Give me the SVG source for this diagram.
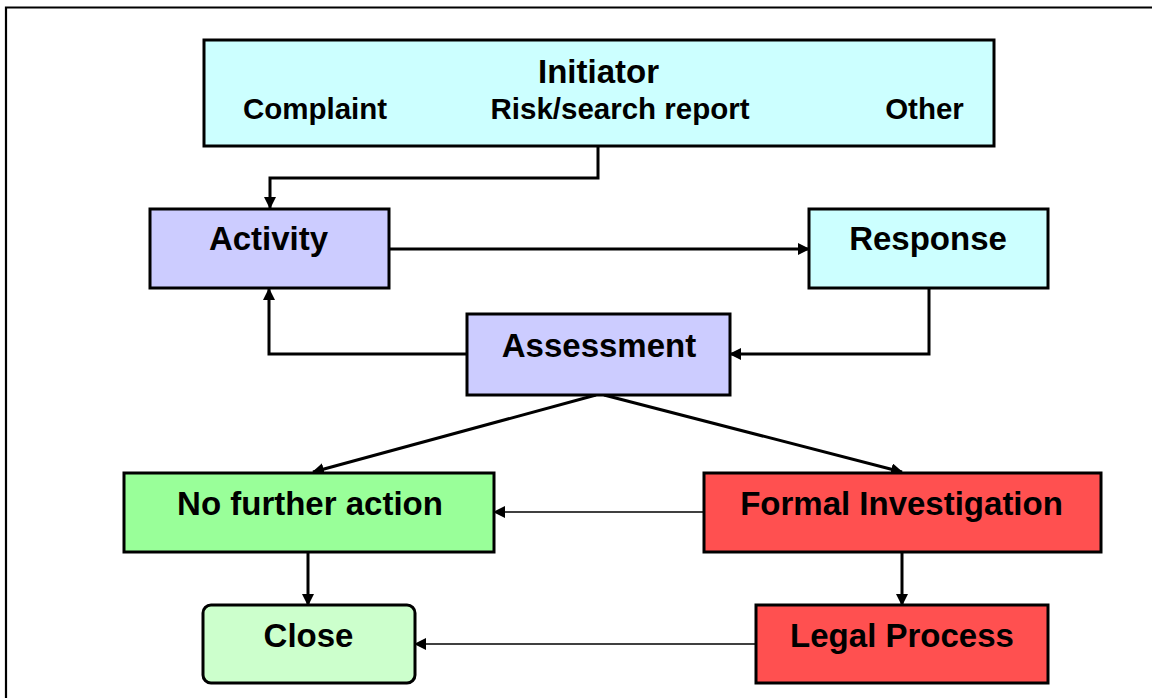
<svg xmlns="http://www.w3.org/2000/svg" width="1152" height="698" viewBox="0 0 1152 698">
<defs>
<marker id="arr" viewBox="0 0 12 12" refX="11" refY="6" markerWidth="12" markerHeight="12" markerUnits="userSpaceOnUse" orient="auto">
<path d="M0,0 L12,6 L0,12 z" fill="#000"/>
</marker>
</defs>
<style>
.box{stroke:#000;stroke-width:3}
.t{font-family:"Liberation Sans",Arial,sans-serif;font-weight:bold;font-size:33px;fill:#000;text-anchor:middle}
.s{font-size:29.5px}
.c{fill:none;stroke:#000;stroke-width:3;marker-end:url(#arr)}
.thin{stroke-width:1.4}
</style>
<rect width="1152" height="698" fill="#fff"/>
<path d="M6,698 V7.5 H1152" fill="none" stroke="#000" stroke-width="2.2"/>
<g id="connectors">
<path class="c" d="M598,147 V178 H270 V208"/>
<path class="c" d="M389,249 H809"/>
<path class="c" d="M929,288 V354 H730"/>
<path class="c" d="M467,354 H269 V289"/>
<path class="c" d="M596,395 L313,472"/>
<path class="c" d="M604,395 L902,472"/>
<path class="c thin" d="M703,512 H494"/>
<path class="c" d="M308,552 V605"/>
<path class="c" d="M902,552 V605"/>
<path class="c thin" d="M756,644 H415"/>
</g>
<g id="initiator">
<rect class="box" x="204" y="40" width="790" height="106" fill="#CCFFFF"/>
<text class="t" x="598.5" y="83">Initiator</text>
<text class="t s" x="315" y="118.5">Complaint</text>
<text class="t s" x="620" y="118.5">Risk/search report</text>
<text class="t s" x="924.5" y="118.5">Other</text>
</g>
<g id="activity">
<rect class="box" x="150" y="209" width="239" height="79" fill="#CCCCFF"/>
<text class="t" x="268.5" y="250">Activity</text>
</g>
<g id="response">
<rect class="box" x="809" y="209" width="239" height="79" fill="#CCFFFF"/>
<text class="t" x="928" y="250">Response</text>
</g>
<g id="assessment">
<rect class="box" x="467" y="314" width="263" height="81" fill="#CCCCFF"/>
<text class="t" x="599" y="357">Assessment</text>
</g>
<g id="no-further-action">
<rect class="box" x="124" y="473" width="370" height="79" fill="#99FF99"/>
<text class="t" x="310" y="515">No further action</text>
</g>
<g id="formal-investigation">
<rect class="box" x="704" y="473" width="397" height="79" fill="#FF5050"/>
<text class="t" x="901.5" y="515">Formal Investigation</text>
</g>
<g id="close">
<rect class="box" x="203" y="605" width="212" height="78" rx="8" ry="8" fill="#CCFFCC"/>
<text class="t" x="308.5" y="647">Close</text>
</g>
<g id="legal-process">
<rect class="box" x="756" y="605" width="292" height="78" fill="#FF5050"/>
<text class="t" x="902" y="647">Legal Process</text>
</g>
</svg>
